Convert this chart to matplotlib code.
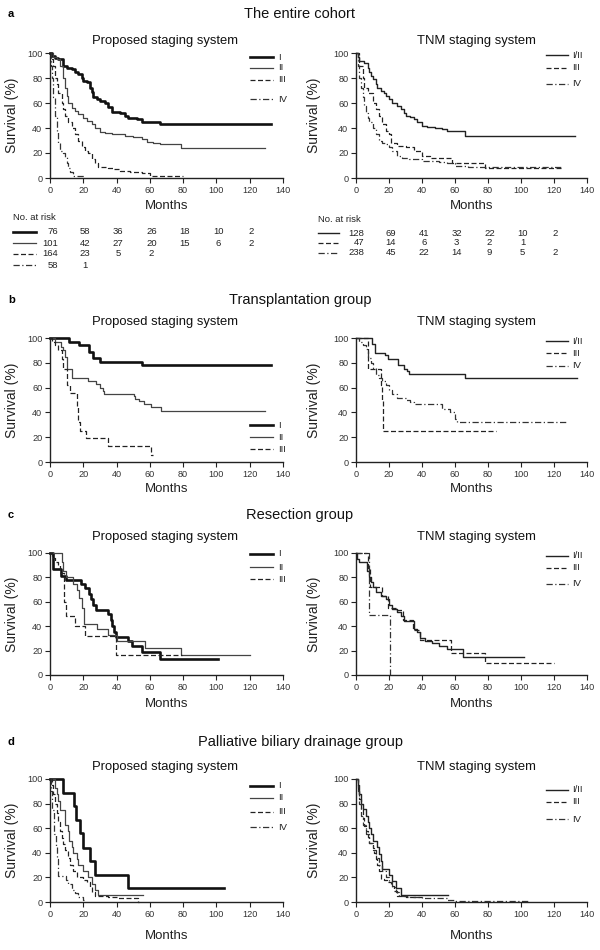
import matplotlib
matplotlib.use("Agg")
import matplotlib.pyplot as plt
from matplotlib.lines import Line2D
from matplotlib.transforms import blended_transform_factory

plt.rcParams['font.family'] = ['Liberation Sans', 'DejaVu Sans']

# ---- Kaplan-Meier step data (months, survival %) ----
# a: entire cohort, proposed staging
a_p1_t = [0, 1, 3, 5, 8, 10, 13, 15, 17, 19, 20, 22, 24, 25, 26, 28, 30, 33, 35, 37, 42, 45, 47, 52, 55, 66, 133]
a_p1_s = [100, 98, 96, 95, 90, 88, 87, 85, 83, 80, 78, 77, 72, 69, 65, 63, 62, 60, 57, 53, 52, 50, 48, 47, 45, 43, 43]
a_p2_t = [0, 2, 4, 6, 8, 9, 10, 11, 13, 15, 17, 20, 22, 25, 27, 30, 33, 37, 45, 50, 55, 58, 62, 66, 79, 129]
a_p2_s = [100, 97, 95, 90, 80, 72, 66, 60, 56, 54, 51, 48, 46, 43, 40, 37, 36, 35, 34, 33, 31, 29, 28, 27, 24, 24]
a_p3_t = [0, 1, 2, 3, 4, 5, 7, 8, 9, 11, 13, 15, 17, 19, 21, 23, 25, 27, 29, 35, 38, 42, 48, 55, 60, 80]
a_p3_s = [100, 95, 90, 80, 75, 68, 60, 55, 50, 45, 40, 35, 30, 25, 22, 20, 15, 12, 9, 8, 7, 6, 5, 4, 2, 2]
a_p4_t = [0, 0.5, 1, 2, 3, 4, 5, 6, 8, 9, 10, 11, 12, 14, 21]
a_p4_s = [100, 90, 80, 65, 50, 38, 28, 22, 20, 17, 12, 8, 5, 2, 2]
# a: entire cohort, TNM
a_t12_t = [0, 1, 2, 5, 7, 8, 9, 10, 12, 13, 15, 17, 18, 20, 22, 25, 27, 29, 30, 33, 35, 37, 40, 43, 48, 52, 55, 66, 133]
a_t12_s = [100, 97, 94, 92, 88, 85, 82, 79, 75, 72, 70, 68, 66, 63, 60, 58, 55, 52, 50, 49, 47, 45, 42, 41, 40, 39, 38, 34, 34]
a_t3_t = [0, 2, 4, 5, 7, 10, 12, 14, 16, 18, 20, 21, 25, 30, 35, 40, 45, 58, 78, 125]
a_t3_s = [100, 90, 80, 72, 68, 60, 55, 50, 43, 38, 35, 28, 26, 25, 22, 18, 16, 12, 8, 8]
a_t4_t = [0, 1, 2, 3, 4, 5, 6, 7, 8, 10, 12, 14, 16, 18, 20, 22, 25, 28, 32, 40, 50, 55, 60, 68, 125]
a_t4_s = [100, 90, 80, 72, 65, 58, 52, 48, 45, 40, 35, 30, 28, 27, 25, 22, 18, 16, 15, 14, 13, 12, 10, 9, 9]

# b: transplantation group
b_p1_t = [0, 11.5, 17.6, 23.4, 25.6, 30, 55, 133]
b_p1_s = [100, 97, 94, 89, 84, 81, 78, 78]
b_p2_t = [0, 2.8, 6.8, 8, 8.9, 10, 13, 23, 27.6, 30, 32, 32.7, 50.3, 51, 53.3, 56.4, 60.4, 66.9, 129]
b_p2_s = [100, 97, 93, 90, 85, 75, 68, 65, 63, 60, 57, 55, 53, 51, 49, 47, 44, 41, 41]
b_p3_t = [0, 1, 3, 5, 7, 8, 10.3, 11.9, 16.4, 17, 18, 21.4, 35, 60.4, 62]
b_p3_s = [100, 97, 94, 90, 83, 75, 62, 56, 45, 32, 25, 19, 13, 6, 6]
b_t12_t = [0, 9.8, 11.6, 17.6, 19.6, 25.3, 29.3, 31, 32.3, 66, 134]
b_t12_s = [100, 95, 88, 86, 83, 78, 75, 73, 71, 68, 68]
b_t3_t = [0, 7, 15, 16, 16.5, 85]
b_t3_s = [100, 75, 62, 50, 25, 25]
b_t4_t = [0, 2, 4, 6, 7, 9, 10, 12, 14, 16, 18, 20, 22, 25, 30, 33, 35, 52, 57, 60, 61, 128]
b_t4_s = [100, 97, 94, 91, 84, 80, 76, 70, 68, 65, 62, 58, 55, 52, 50, 48, 47, 43, 40, 35, 32, 32]

# c: resection group
c_p1_t = [0, 1.6, 6.6, 9.7, 18.7, 21.3, 23.3, 24.7, 25.7, 27.4, 34.8, 36.4, 37.4, 38.4, 39.9, 47, 49, 55, 66, 101]
c_p1_s = [100, 87, 81, 78, 75, 71, 66, 62, 57, 53, 50, 45, 40, 35, 31, 28, 24, 19, 13, 13]
c_p2_t = [0, 7.5, 8, 9.5, 14, 16, 17.5, 19, 20.5, 28, 35, 40, 57, 79, 120]
c_p2_s = [100, 93, 85, 80, 75, 70, 63, 55, 42, 38, 33, 28, 22, 16, 16]
c_p3_t = [0, 1, 3, 5, 6, 8.6, 9.6, 15.3, 21.3, 39.5, 79.5]
c_p3_s = [100, 96, 93, 90, 84, 60, 48, 40, 32, 16, 16]
c_t12_t = [0, 0.5, 2, 6.7, 8, 9, 10, 12, 15, 18, 20, 22, 25, 27, 29, 35, 37, 39, 42, 46, 50, 55, 65, 102]
c_t12_s = [100, 95, 93, 85, 80, 76, 72, 68, 65, 62, 57, 54, 52, 48, 44, 38, 35, 30, 28, 26, 24, 21, 15, 15]
c_t3_t = [0, 7, 8.3, 15.5, 19.2, 24.7, 28.6, 34.6, 38.7, 57.3, 78, 120]
c_t3_s = [100, 88, 72, 65, 55, 53, 45, 37, 29, 18, 9.5, 9.5]
c_t4_t = [0, 7.7, 20.7, 20.8]
c_t4_s = [100, 49, 0, 0]

# d: palliative biliary drainage group
d_p1_t = [0, 8.1, 14.4, 15.8, 17.8, 19.8, 23.9, 26.9, 47.1, 104.7]
d_p1_s = [100, 89, 78, 67, 56, 44, 33, 22, 11, 11]
d_p2_t = [0, 3, 4, 5, 6, 9, 11, 11.7, 13, 14, 16, 17, 20, 23, 25, 27, 29, 56]
d_p2_s = [100, 93, 88, 82, 75, 63, 58, 50, 45, 40, 35, 30, 25, 20, 15, 10, 6, 6]
d_p3_t = [0, 1, 2, 3, 4, 5, 6, 7, 8, 9, 11, 12, 14, 16, 20, 22, 24, 25, 27, 35, 40, 53, 53.2]
d_p3_s = [100, 95, 88, 80, 72, 65, 58, 52, 47, 42, 36, 30, 25, 20, 18, 16, 12, 8, 5, 4, 3, 0, 0]
d_p4_t = [0, 0.5, 1.5, 2.5, 3.5, 4.5, 5, 9.7, 11, 13, 15, 17, 20, 20.5]
d_p4_s = [100, 90, 75, 55, 45, 35, 21, 18, 15, 10, 7, 4, 2, 2]
d_t12_t = [0, 1, 2, 3, 4, 6, 7, 8, 9, 10, 13, 14, 15, 16, 20, 22, 24, 27, 56]
d_t12_s = [100, 95, 88, 80, 76, 70, 65, 60, 55, 50, 45, 39, 33, 27, 22, 17, 11, 6, 6]
d_t3_t = [0, 1, 2, 3, 4, 5, 6, 7, 8, 10, 11, 12, 13, 14, 15, 17, 19, 21, 23, 25, 30, 40]
d_t3_s = [100, 92, 84, 76, 68, 62, 58, 53, 48, 44, 40, 35, 30, 25, 19, 18, 16, 13, 9, 5, 4, 4]
d_t4_t = [0, 1, 2, 3, 4, 6, 8, 10, 12, 14, 16, 18, 20, 22, 24, 26, 32, 40, 55, 60, 104]
d_t4_s = [100, 90, 80, 70, 63, 55, 48, 42, 36, 30, 25, 20, 16, 12, 8, 5, 4, 3, 2, 1, 1]

# number at risk (entire cohort)
risk_times = [0, 20, 40, 60, 80, 100, 120]
risk_prop = [[76, 58, 36, 26, 18, 10, 2],
             [101, 42, 27, 20, 15, 6, 2],
             [164, 23, 5, 2],
             [58, 1]]
risk_tnm = [[128, 69, 41, 32, 22, 10, 2],
            [47, 14, 6, 3, 2, 1],
            [238, 45, 22, 14, 9, 5, 2]]

prop_labels = ['I', 'II', 'III', 'IV']
tnm_labels = ['I/II', 'III', 'IV']

STYLE = {
    'I': dict(color='#111111', lw=1.9, ls='-'),
    'II': dict(color='#444444', lw=0.9, ls='-'),
    'III': dict(color='#222222', lw=0.9, ls=(0, (4, 2))),
    'IV': dict(color='#333333', lw=0.9, ls=(0, (5, 2, 1, 2))),
    'I/II': dict(color='#222222', lw=1.0, ls='-'),
}

W, H = 600, 950


def fx(px):
    return px / W


def fy(py):
    return 1 - py / H


# rows: letter, title, title y, subtitle y, axes top/bottom (px), xlabel top offset, curves, legend y's
rows = [
    dict(letter='a', title='The entire cohort', ty=14, sy=41, top=53, bot=178, xl=22,
         prop=[(a_p1_t, a_p1_s), (a_p2_t, a_p2_s), (a_p3_t, a_p3_s), (a_p4_t, a_p4_s)],
         tnm=[(a_t12_t, a_t12_s), (a_t3_t, a_t3_s), (a_t4_t, a_t4_s)],
         leg_p=[57, 68, 80, 99], leg_t=[55, 68, 84]),
    dict(letter='b', title='Transplantation group', ty=300, sy=322, top=338, bot=462, xl=21,
         prop=[(b_p1_t, b_p1_s), (b_p2_t, b_p2_s), (b_p3_t, b_p3_s)],
         tnm=[(b_t12_t, b_t12_s), (b_t3_t, b_t3_s), (b_t4_t, b_t4_s)],
         leg_p=[425, 437, 449], leg_t=[341, 353, 366]),
    dict(letter='c', title='Resection group', ty=515, sy=537, top=553, bot=675, xl=23,
         prop=[(c_p1_t, c_p1_s), (c_p2_t, c_p2_s), (c_p3_t, c_p3_s)],
         tnm=[(c_t12_t, c_t12_s), (c_t3_t, c_t3_s), (c_t4_t, c_t4_s)],
         leg_p=[554, 567, 579], leg_t=[556, 568, 584]),
    dict(letter='d', title='Palliative biliary drainage group', ty=742, sy=767, top=779, bot=902, xl=28,
         prop=[(d_p1_t, d_p1_s), (d_p2_t, d_p2_s), (d_p3_t, d_p3_s), (d_p4_t, d_p4_s)],
         tnm=[(d_t12_t, d_t12_s), (d_t3_t, d_t3_s), (d_t4_t, d_t4_s)],
         leg_p=[786, 798, 812, 827], leg_t=[790, 802, 819]),
]

fig = plt.figure(figsize=(6, 9.5), dpi=100)

axes_x = [(50, 283), (356, 587)]
legend_x = [(250, 273, 278), (546, 568, 572)]
sub_x = [165, 476]
ylabel_x = [19, 321]


def style_axes(ax, height_px, xl_px):
    ax.set_xlim(0, 140)
    ax.set_ylim(0, 100)
    ax.set_xticks(range(0, 141, 20))
    ax.set_yticks(range(0, 101, 20))
    for side in ['top', 'right']:
        ax.spines[side].set_visible(False)
    for side in ['left', 'bottom']:
        ax.spines[side].set_linewidth(1.0)
        ax.spines[side].set_color('#222222')
    ax.tick_params(length=3.5, width=0.8, labelsize=6.6, colors='#222222', labelcolor='#333333', pad=2)
    ax.set_xlabel('Months', fontsize=9.5, color='#222222')
    ax.xaxis.set_label_coords(0.5, -xl_px / height_px)
    ax.set_ylabel('Survival (%)', fontsize=10, color='#222222')


for r in rows:
    fig.text(fx(8), fy(r['ty']), r['letter'], fontsize=8, fontweight='bold', ha='left', va='center')
    fig.text(0.5, fy(r['ty']), r['title'], fontsize=10.5, ha='center', va='center', color='#111111')
    h = r['bot'] - r['top']
    for col, (curves, labels, legy) in enumerate([(r['prop'], prop_labels, r['leg_p']),
                                                  (r['tnm'], tnm_labels, r['leg_t'])]):
        x0, x1 = axes_x[col]
        ax = fig.add_axes([fx(x0), fy(r['bot']), (x1 - x0) / W, h / H])
        for (t, s), lab in zip(curves, labels):
            st = STYLE[lab]
            ax.step(t, s, where='post', color=st['color'], lw=st['lw'], ls=st['ls'], clip_on=False)
        style_axes(ax, h, r['xl'])
        ax.yaxis.set_label_coords(-(x0 - ylabel_x[col]) / (x1 - x0), 0.5)
        fig.text(fx(sub_x[col]), fy(r['sy']), ['Proposed staging system', 'TNM staging system'][col],
                 fontsize=9.4, ha='center', va='center', color='#111111')
        lx0, lx1, tx = legend_x[col]
        for lab, y in zip(labels[:len(curves)], legy):
            st = STYLE[lab]
            fig.add_artist(Line2D([fx(lx0), fx(lx1)], [fy(y), fy(y)], transform=fig.transFigure,
                                  color=st['color'], lw=st['lw'], ls=st['ls']))
            fig.text(fx(tx), fy(y), lab, fontsize=6.8, ha='left', va='center', color='#222222')
        if r['letter'] == 'a':
            tr = blended_transform_factory(ax.transData, fig.transFigure)
            if col == 0:
                table, lab_list, ry, nx, sx = risk_prop, prop_labels, [232, 243, 254, 265], 13, (13, 36)
                hy = 217
            else:
                table, lab_list, ry, nx, sx = risk_tnm, tnm_labels, [233, 242.5, 252.5], 318, (318, 339)
                hy = 220
            fig.text(fx(nx), fy(hy), 'No. at risk', fontsize=6.8, ha='left', va='center', color='#222222')
            for vals, lab, y in zip(table, lab_list, ry):
                st = STYLE[lab]
                fig.add_artist(Line2D([fx(sx[0]), fx(sx[1])], [fy(y), fy(y)], transform=fig.transFigure,
                                      color=st['color'], lw=st['lw'], ls=st['ls']))
                for i, v in enumerate(vals):
                    if i == 0:
                        fig.text(5, fy(y), str(v), transform=tr, fontsize=6.8, ha='right', va='center',
                                 color='#222222')
                    else:
                        fig.text(risk_times[i] + 1, fy(y), str(v), transform=tr, fontsize=6.8,
                                 ha='center', va='center', color='#222222')

fig.savefig('out.png', dpi=100)
